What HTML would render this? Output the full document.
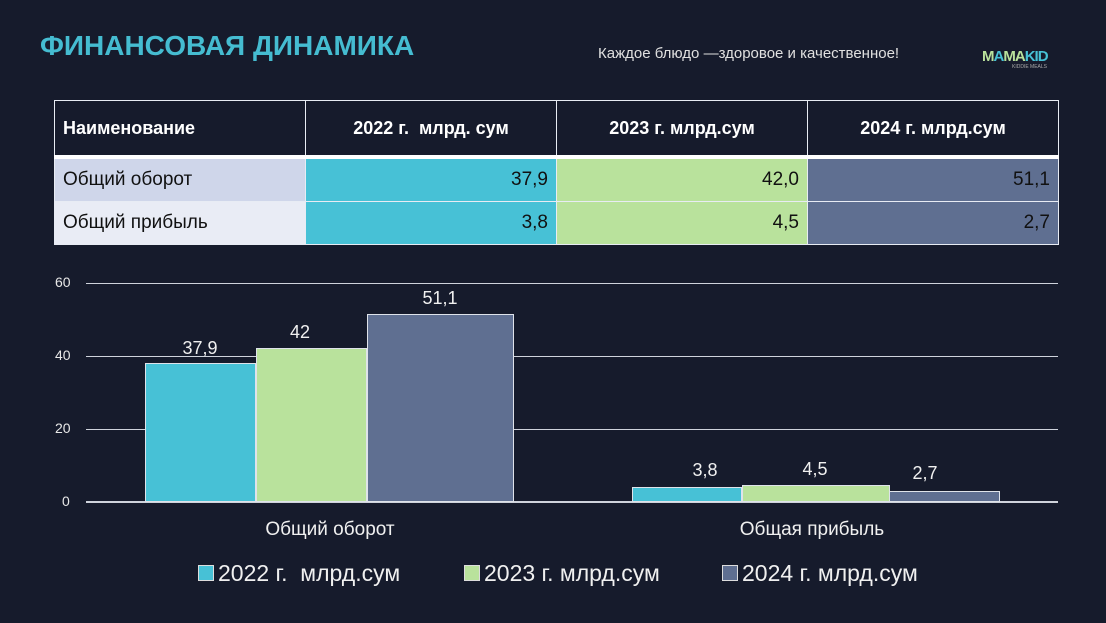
<!DOCTYPE html>
<html><head><meta charset="utf-8"><style>
body{margin:0;width:1106px;height:623px;background:#161b2c;font-family:"Liberation Sans",sans-serif;position:relative;overflow:hidden}
.a{position:absolute}
table{position:absolute;left:54px;top:100px;border-collapse:collapse;width:1004px;font-size:18px;table-layout:fixed}
td{border:1.5px solid #e8ecf4;padding:0 8px;color:#111}
tr.h td{height:54px;color:#fff;font-weight:bold;text-align:center;background:#161b2c;border-bottom:4px solid #fff}
tr.h td:first-child{text-align:left}
tr.r td{height:42px;text-align:right;font-size:19px}
tr.r td:first-child{text-align:left}
.c1{background:#47c1d6}.c2{background:#b9e29c}.c3{background:#5f6f91}
.g{position:absolute;left:86px;width:972px;height:1px;background:#cfd3dc}
.t{position:absolute;color:#e8e8e8;font-size:14px}
.b{position:absolute;box-sizing:border-box;border:1px solid #dfe3ea}
.l{position:absolute;color:#f0f0f0;font-size:18px;text-align:center;width:110px}
</style></head><body>
<div class="a" style="left:40px;top:30px;color:#45bcd1;font-size:28px;font-weight:bold">ФИНАНСОВАЯ ДИНАМИКА</div>
<div class="a" style="left:598px;top:45px;color:#e0e0e0;font-size:15px">Каждое блюдо —здоровое и качественное!</div>
<div class="a" style="left:982px;top:48px;color:#b9e29c;font-size:15px;font-weight:bold;letter-spacing:-1px">M<span style="color:#47c1d6">A</span>M<span style="color:#b9e29c">A</span><span style="color:#47c1d6">KID</span></div>
<div class="a" style="left:1012px;top:64px;color:#aaa;font-size:5px">KIDDIE MEALS</div>
<table>
<colgroup><col style="width:251px"><col style="width:251px"><col style="width:251px"><col style="width:251px"></colgroup>
<tr class="h"><td>Наименование</td><td>2022 г.&nbsp; млрд. сум</td><td>2023 г. млрд.сум</td><td>2024 г. млрд.сум</td></tr>
<tr class="r"><td style="background:#cfd6ea">Общий оборот</td><td class="c1">37,9</td><td class="c2">42,0</td><td class="c3">51,1</td></tr>
<tr class="r"><td style="background:#e9ecf5">Общий прибыль</td><td class="c1">3,8</td><td class="c2">4,5</td><td class="c3">2,7</td></tr>
</table>
<div class="g" style="top:283px"></div><div class="g" style="top:356px"></div><div class="g" style="top:429px"></div><div class="g" style="top:501px;height:2px"></div>
<div class="t" style="left:55px;top:274px">60</div><div class="t" style="left:55px;top:347px">40</div><div class="t" style="left:55px;top:420px">20</div><div class="t" style="left:62px;top:493px">0</div>
<div class="b c1" style="left:145px;top:363px;width:111px;height:139px"></div>
<div class="b c2" style="left:256px;top:348px;width:111px;height:154px"></div>
<div class="b c3" style="left:367px;top:314px;width:147px;height:188px"></div>
<div class="b c1" style="left:632px;top:487px;width:110px;height:15px"></div>
<div class="b c3" style="left:852px;top:491px;width:148px;height:11px"></div>
<div class="b c2" style="left:742px;top:485px;width:148px;height:17px"></div>
<div class="l" style="left:145px;top:338px">37,9</div>
<div class="l" style="left:245px;top:322px">42</div>
<div class="l" style="left:385px;top:288px">51,1</div>
<div class="l" style="left:650px;top:460px">3,8</div>
<div class="l" style="left:760px;top:459px">4,5</div>
<div class="l" style="left:870px;top:463px">2,7</div>
<div class="a" style="left:230px;top:519px;width:200px;text-align:center;color:#f0f0f0;font-size:19px">Общий оборот</div>
<div class="a" style="left:712px;top:519px;width:200px;text-align:center;color:#f0f0f0;font-size:19px">Общая прибыль</div>
<div class="a" style="left:198px;top:565px;width:14px;height:14px;background:#47c1d6;border:1px solid #ddd"></div>
<div class="a" style="left:218px;top:560px;color:#f0f0f0;font-size:23px">2022 г.&nbsp; млрд.сум</div>
<div class="a" style="left:464px;top:565px;width:14px;height:14px;background:#b9e29c;border:1px solid #ddd"></div>
<div class="a" style="left:484px;top:560px;color:#f0f0f0;font-size:23px">2023 г. млрд.сум</div>
<div class="a" style="left:722px;top:565px;width:14px;height:14px;background:#5f6f91;border:1px solid #ddd"></div>
<div class="a" style="left:742px;top:560px;color:#f0f0f0;font-size:23px">2024 г. млрд.сум</div>
</body></html>
